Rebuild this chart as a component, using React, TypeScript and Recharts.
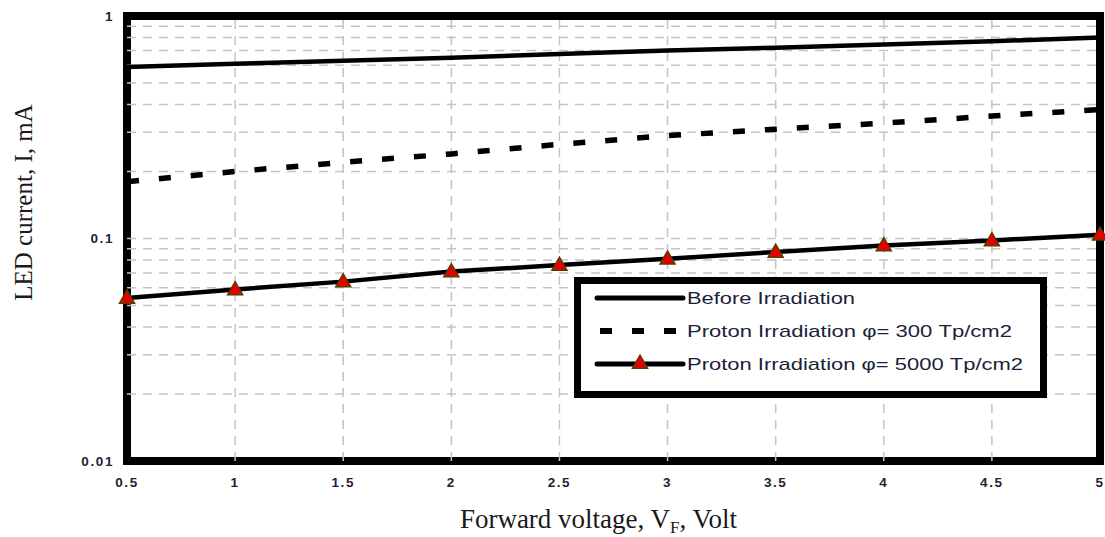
import React from 'react';
import {
  LineChart,
  Line,
  XAxis,
  YAxis,
  ReferenceLine,
  ReferenceArea,
  Legend,
} from 'recharts';

const voltages = [0.5, 1, 1.5, 2, 2.5, 3, 3.5, 4, 4.5, 5];
const beforeIrradiation = [0.59, 0.61, 0.63, 0.65, 0.675, 0.7, 0.72, 0.745, 0.77, 0.8];
const proton300 = [0.18, 0.2, 0.22, 0.24, 0.265, 0.29, 0.31, 0.33, 0.355, 0.38];
const proton5000 = [0.054, 0.059, 0.064, 0.071, 0.076, 0.081, 0.087, 0.093, 0.098, 0.104];

const xTicks = [0.5, 1, 1.5, 2, 2.5, 3, 3.5, 4, 4.5, 5];
const yTicks = [0.01, 0.1, 1];
const yGridValues = [
  0.02, 0.03, 0.04, 0.05, 0.06, 0.07, 0.08, 0.09, 0.1,
  0.2, 0.3, 0.4, 0.5, 0.6, 0.7, 0.8, 0.9,
];
const xGridValues = [1, 1.5, 2, 2.5, 3, 3.5, 4, 4.5];

const seriesNames = [
  'Before Irradiation',
  'Proton Irradiation \u03c6= 300 Tp/cm2',
  'Proton Irradiation \u03c6= 5000 Tp/cm2',
];

const data = voltages.map((v, i) => ({
  v,
  before: beforeIrradiation[i],
  p300: proton300[i],
  p5000: proton5000[i],
}));

const TICK_COLOR = '#1e2233';
const GRID = '#c4c4c4';
const TICK_STYLE = {
  fontSize: 13.5,
  fill: TICK_COLOR,
  fontFamily: 'Liberation Sans, Arial, sans-serif',
  fontWeight: 'bold',
  letterSpacing: 1.6,
};

const Triangle = (props: any) => {
  const { cx, cy } = props;
  if (cx == null || cy == null) return null;
  const w = 7.5;
  const h = 13;
  return (
    <path
      d={`M${cx},${cy - h * 0.6} L${cx + w},${cy + h * 0.4} L${cx - w},${cy + h * 0.4} Z`}
      fill="#e80000"
      stroke="#5a3c00"
      strokeWidth={1.5}
    />
  );
};

const LegendBox = () => (
  <svg width={474} height={122} style={{ display: 'block' }}>
    <rect x={3.5} y={3.5} width={466} height={114} fill="#fff" stroke="#000" strokeWidth={7} />
    <line x1={23} y1={21} x2={109} y2={21} stroke="#000" strokeWidth={5} strokeLinecap="round" />
    <line x1={26} y1={54} x2={109} y2={54} stroke="#000" strokeWidth={6} strokeDasharray="12 20" />
    <line x1={23} y1={87} x2={109} y2={87} stroke="#000" strokeWidth={5} strokeLinecap="round" />
    <Triangle cx={66} cy={86} />
    {seriesNames.map((n, i) => (
      <text
        key={n}
        x={113}
        y={27 + i * 33}
        fontFamily="Liberation Sans, Arial, sans-serif"
        fontSize={17}
        fill="#1a1f3a"
        textLength={[168, 325, 336][i]}
        lengthAdjust="spacingAndGlyphs"
      >
        {n}
      </text>
    ))}
  </svg>
);

const XTitle = (props: any) => {
  const { viewBox } = props;
  const cx = viewBox.x + viewBox.width / 2 - 15;
  const y = 528;
  return (
    <text
      x={cx}
      y={y}
      textAnchor="middle"
      fontFamily="Liberation Serif, Times New Roman, serif"
      fontSize={27}
      fill="#1a1a1a"
    >
      Forward voltage, V
      <tspan fontSize={17} dy={5}>F</tspan>
      <tspan dy={-5}>, Volt</tspan>
    </text>
  );
};

const YTitle = (props: any) => {
  const { viewBox } = props;
  const cy = viewBox.y + viewBox.height / 2 - 36;
  const x = 32;
  return (
    <text
      x={x}
      y={cy}
      textAnchor="middle"
      transform={`rotate(-90, ${x}, ${cy})`}
      fontFamily="Liberation Serif, Times New Roman, serif"
      fontSize={25}
      fill="#1a1a1a"
    >
      LED current, I, mA
    </text>
  );
};

export default function App() {
  return (
    <div style={{ position: 'absolute', left: 0, top: 0, width: 1105, height: 537, background: '#fff' }}>
      <LineChart
        width={1105}
        height={537}
        data={data}
        margin={{ top: 16, right: 5, left: 0, bottom: 0 }}
      >
        {yGridValues.map((g) => (
          <ReferenceLine key={'h' + g} y={g} stroke={GRID} strokeWidth={1.5} strokeDasharray="9 7" />
        ))}
        {xGridValues.map((g) => (
          <ReferenceLine key={'v' + g} x={g} stroke={GRID} strokeWidth={1.5} strokeDasharray="9 7" />
        ))}
        <XAxis
          dataKey="v"
          type="number"
          domain={[0.5, 5]}
          ticks={xTicks}
          height={76}
          axisLine={false}
          tickLine={false}
          tickMargin={10}
          interval={0}
          tick={TICK_STYLE}
          label={<XTitle />}
        />
        <YAxis
          type="number"
          scale="log"
          domain={[0.01, 1]}
          ticks={yTicks}
          width={127}
          axisLine={false}
          tickLine={false}
          tickMargin={7}
          interval={0}
          allowDataOverflow
          tickFormatter={(v: number) => String(v)}
          tick={TICK_STYLE}
          label={<YTitle />}
        />
        <Line
          dataKey="before"
          name={seriesNames[0]}
          stroke="#000"
          strokeWidth={4.5}
          dot={false}
          isAnimationActive={false}
        />
        <Line
          dataKey="p300"
          name={seriesNames[1]}
          stroke="#000"
          strokeWidth={5.5}
          strokeDasharray="12 20"
          dot={false}
          isAnimationActive={false}
        />
        <Line
          dataKey="p5000"
          name={seriesNames[2]}
          stroke="#000"
          strokeWidth={4.5}
          dot={<Triangle />}
          isAnimationActive={false}
        />
        <ReferenceArea
          x1={0.5}
          x2={5}
          y1={0.01}
          y2={1}
          fill="none"
          fillOpacity={0}
          stroke="#000"
          strokeWidth={8}
        />
        <Legend
          layout="horizontal"
          verticalAlign="middle"
          align="center"
          content={() => <LegendBox />}
          wrapperStyle={{ position: 'absolute', left: 574, top: 277, width: 474, height: 122 }}
        />
      </LineChart>
    </div>
  );
}
